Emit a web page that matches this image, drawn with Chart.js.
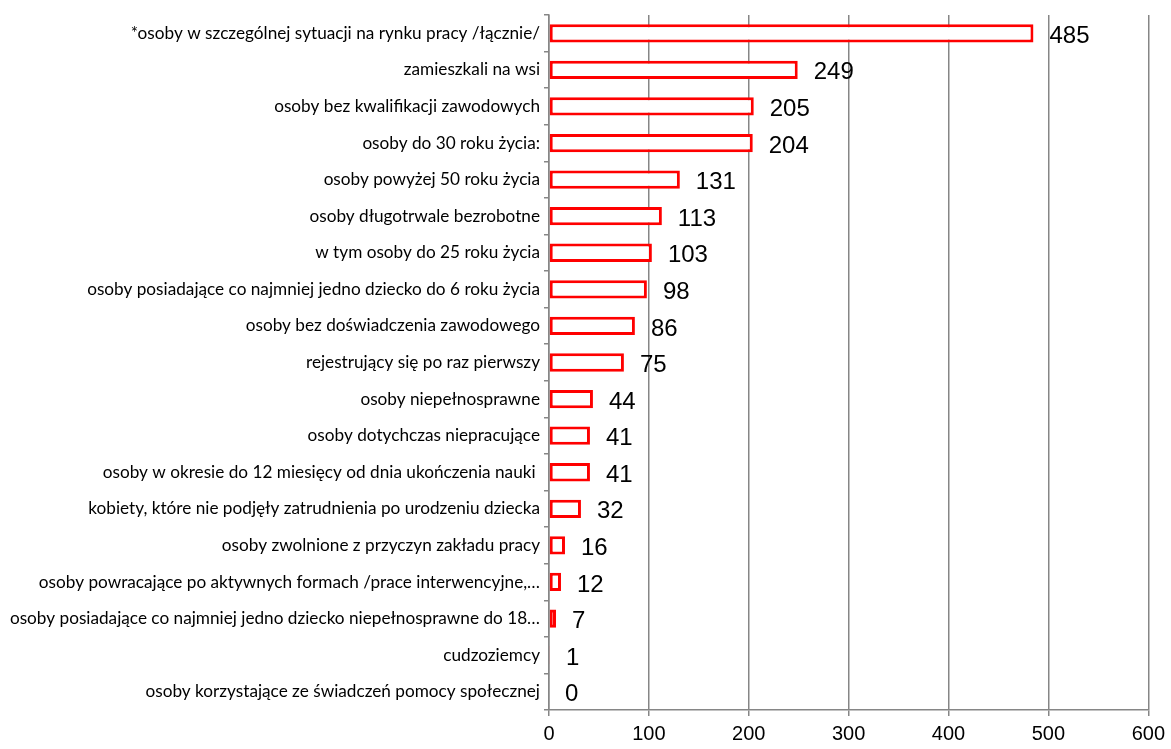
<!DOCTYPE html>
<html>
<head>
<meta charset="utf-8">
<script src="https://cdn.jsdelivr.net/npm/chart.js@4.4.0/dist/chart.umd.min.js"></script>
<style>
  body { margin: 0; background: #fff; }
  #wrap { width: 1171px; height: 749px; }
</style>
</head>
<body>
<div id="wrap"><canvas id="chart" width="1171" height="749"></canvas></div>
<script>
// kategorie (od góry do dołu)
const categories = [
  "*osoby w szczególnej sytuacji na rynku pracy /łącznie/",
  "zamieszkali na wsi",
  "osoby bez kwalifikacji zawodowych",
  "osoby do 30 roku życia:",
  "osoby powyżej 50 roku życia",
  "osoby długotrwale bezrobotne",
  "w tym osoby do 25 roku życia",
  "osoby posiadające co najmniej jedno dziecko do 6 roku życia",
  "osoby bez doświadczenia zawodowego",
  "rejestrujący się po raz pierwszy",
  "osoby niepełnosprawne",
  "osoby dotychczas niepracujące",
  "osoby w okresie do 12 miesięcy od dnia ukończenia nauki ",
  "kobiety, które nie podjęły zatrudnienia po urodzeniu dziecka",
  "osoby zwolnione z przyczyn zakładu pracy",
  "osoby powracające po aktywnych formach /prace interwencyjne,…",
  "osoby posiadające co najmniej jedno dziecko niepełnosprawne do 18…",
  "cudzoziemcy",
  "osoby korzystające ze świadczeń pomocy społecznej"
];
const values = [485, 249, 205, 204, 131, 113, 103, 98, 86, 75, 44, 41, 41, 32, 16, 12, 7, 1, 0];
const xTicks = [0, 100, 200, 300, 400, 500, 600];

const gridColor = "#868686";

// etykiety wartości obok słupków
const valueLabels = {
  id: "valueLabels",
  afterDatasetsDraw(chart) {
    const ctx = chart.ctx;
    const meta = chart.getDatasetMeta(0);
    ctx.save();
    ctx.font = "24px 'Liberation Sans'";
    ctx.fillStyle = "#000";
    ctx.textAlign = "left";
    ctx.textBaseline = "middle";
    meta.data.forEach((bar, i) => {
      ctx.fillText(String(values[i]), bar.x + 16, bar.y + 3);
    });
    ctx.restore();
  }
};

new Chart(document.getElementById("chart"), {
  type: "bar",
  data: {
    labels: categories,
    datasets: [{
      data: values,
      backgroundColor: "#ffffff",
      borderColor: "#ff0000",
      borderWidth: 3,
      borderSkipped: false,
      barPercentage: 0.5,
      categoryPercentage: 1
    }]
  },
  options: {
    indexAxis: "y",
    responsive: false,
    animation: false,
    layout: { padding: { top: 15, right: 22, bottom: 0, left: 0 } },
    plugins: { legend: { display: false }, tooltip: { enabled: false } },
    scales: {
      x: {
        min: 0,
        max: 600,
        afterBuildTicks: (s) => { s.ticks = xTicks.map(v => ({ value: v })); },
        afterFit: (s) => { s.height = 39; },
        grid: { color: gridColor, lineWidth: 1.5, tickLength: 6, drawTicks: true },
        border: { color: gridColor, width: 1.5 },
        ticks: { color: "#000", font: { family: "Liberation Sans", size: 20 }, padding: 6, maxRotation: 0 }
      },
      y: {
        afterFit: (s) => { s.width = 549; },
        grid: { color: gridColor, lineWidth: 1.5, drawOnChartArea: false, tickLength: 5, offset: true },
        border: { color: gridColor, width: 1.5 },
        ticks: { color: "#000", font: { family: "Lato", size: 17.2 }, padding: 4, autoSkip: false }
      }
    }
  },
  plugins: [valueLabels]
});
</script>
</body>
</html>
